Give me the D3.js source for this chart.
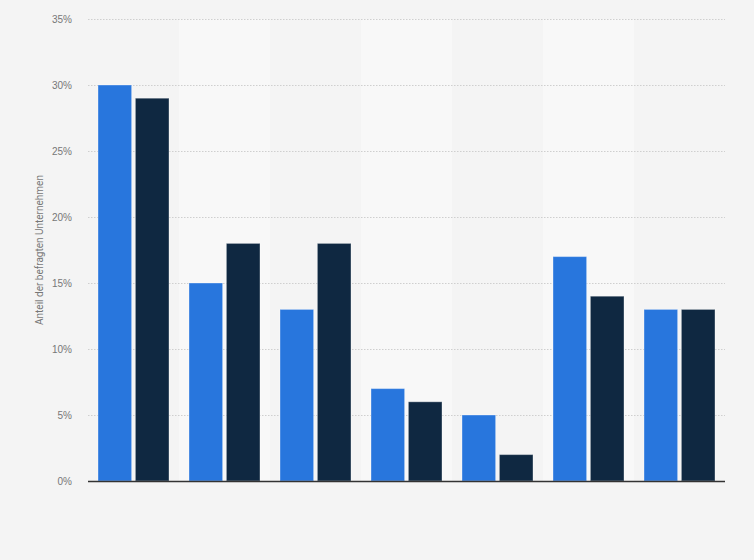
<!DOCTYPE html>
<html><head><meta charset="utf-8">
<script src="https://cdn.jsdelivr.net/npm/d3@7"></script>
<style>body{margin:0;background:#f4f4f4;}svg{display:block;font-family:Roboto,"Open Sans",Arial,sans-serif;}</style>
</head><body>
<svg id="c" width="754" height="560"></svg>
<script>
const categories = ["1","2","3","4","5","6","7"];
const seriesNames = ["Serie A","Serie B"];
const seriesA = [30,15,13,7,5,17,13];
const seriesB = [29,18,18,6,2,14,13];
const yTicks = [0,5,10,15,20,25,30,35];
const colors = ["#2876dd","#0f2841"];

const svg = d3.select("#c");
const W=754,H=560;
const m={l:88,r:29,t:19,b:79};
svg.append("rect").attr("width",W).attr("height",H).attr("fill","#f4f4f4");
const x = d3.scaleBand().domain(categories).range([m.l,W-m.r]).paddingInner(0).paddingOuter(0);
const xi = d3.scaleBand().domain(seriesNames).range([10,x.bandwidth()-10]).paddingOuter(0).paddingInner(0.1);
const y = d3.scaleLinear().domain([0,35]).range([H-m.b,m.t]);

// alternating bands
svg.append("g").selectAll("rect").data(categories.filter((d,i)=>i%2===1)).join("rect")
  .attr("x",d=>x(d)).attr("y",m.t).attr("width",x.bandwidth()).attr("height",y(0)-m.t+0)
  .attr("fill","#f8f8f8");

// grid
const yAxis = d3.axisLeft(y).tickValues(yTicks).tickFormat(d=>d+"%").tickSize(-(W-m.l-m.r)).tickPadding(16);
const gy = svg.append("g").attr("transform",`translate(${m.l},0)`).call(yAxis);
gy.select(".domain").remove();
gy.selectAll(".tick line").attr("stroke","#cfcfcf").attr("stroke-dasharray","1.5,1.5").attr("stroke-width",1);
gy.selectAll(".tick text").attr("fill","#777").attr("font-size","10px");

// bars
const data = categories.map((c,i)=>({c,vals:[seriesA[i],seriesB[i]]}));
const g = svg.append("g").selectAll("g").data(data).join("g").attr("transform",d=>`translate(${x(d.c)},0)`);
g.selectAll("rect").data(d=>d.vals.map((v,j)=>({s:seriesNames[j],v,j}))).join("rect")
  .attr("x",d=>xi(d.s)).attr("width",xi.bandwidth())
  .attr("y",d=>y(d.v)).attr("height",d=>y(0)-y(d.v))
  .attr("fill",d=>colors[d.j]).attr("stroke","rgba(255,255,255,0.35)").attr("stroke-width",1);

// baseline
svg.append("line").attr("x1",m.l).attr("x2",W-m.r).attr("y1",y(0)+0.5).attr("y2",y(0)+0.5).attr("stroke","#333").attr("stroke-width",1.3);

// y title
svg.append("text").attr("transform",`translate(43,${(y(0)+y(35))/2}) rotate(-90)`)
  .attr("text-anchor","middle").attr("fill","#777").attr("font-size","10px").text("Anteil der befragten Unternehmen");
</script>
</body></html>
